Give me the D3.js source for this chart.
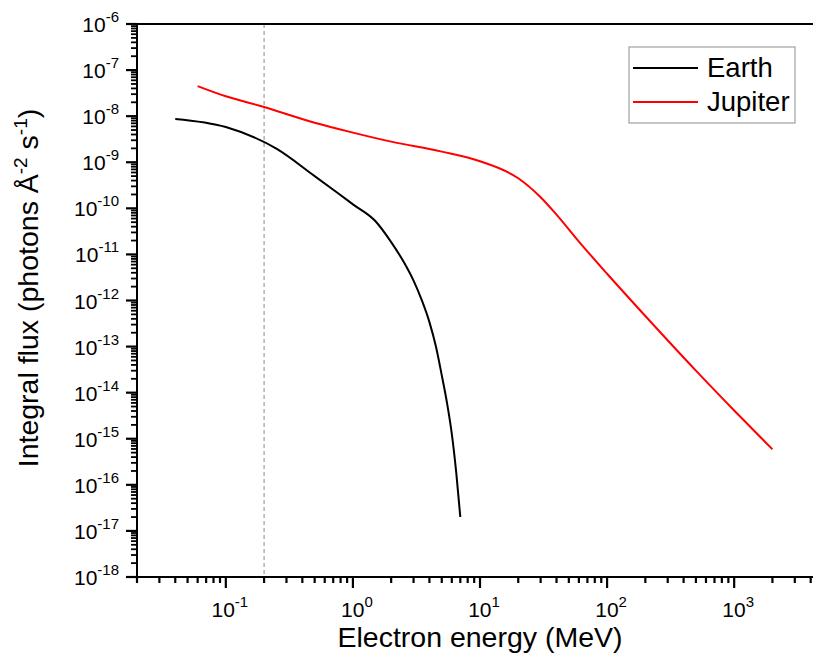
<!DOCTYPE html>
<html>
<head>
<meta charset="utf-8">
<script src="https://cdn.jsdelivr.net/npm/d3@7"></script>
<style>
  html, body { margin: 0; padding: 0; background: #fff; }
  svg { display: block; font-family: "Liberation Sans", Arial, sans-serif; }
</style>
</head>
<body>
<svg id="chart" width="813" height="663"></svg>
<script>
// ---- data ----
const earthEnergy = [0.04, 0.1, 0.25, 0.5, 0.75, 1, 1.5, 2, 2.5, 3, 3.5, 4, 4.5, 5, 5.5, 6, 6.5, 7];
const earthFlux   = [8.7e-9, 5.8e-9, 1.97e-9, 5.0e-10, 2.2e-10, 1.22e-10, 5.3e-11, 1.85e-11, 7.0e-12, 2.7e-12, 9.8e-13, 3.4e-13, 1.0e-13, 2.4e-14, 6.0e-15, 1.28e-15, 1.86e-16, 2.0e-17];
const jupiterEnergy = [0.06, 0.1, 0.2, 0.5, 1, 2, 5, 10, 20, 30, 40, 60, 100, 200, 500, 1000, 2000];
const jupiterFlux   = [4.5e-8, 2.7e-8, 1.58e-8, 7.2e-9, 4.4e-9, 2.8e-9, 1.7e-9, 1.05e-9, 4.5e-10, 1.74e-10, 7.3e-11, 1.9e-11, 3.8e-12, 4.6e-13, 3.0e-14, 4.1e-15, 5.9e-16];
const seriesNames = ["Earth", "Jupiter"];
const seriesColors = ["#000000", "#ff0000"];
const xMajorExp = [-1, 0, 1, 2, 3];
const yMajorExp = [-18, -17, -16, -15, -14, -13, -12, -11, -10, -9, -8, -7, -6];
const markerEnergy = 0.2;
const xTitle = "Electron energy (MeV)";

// ---- layout ----
const svg = d3.select("#chart");
const pLeft = 137, pRight = 823, pTop = 24, pBottom = 577;
const x = d3.scaleLog().domain([0.02, 5000]).range([pLeft, pRight]);
const y = d3.scaleLog().domain([1e-18, 1e-6]).range([pBottom, pTop]);

// minor ticks
const xMinor = [];
for (let e = -2; e <= 3; e++) for (let m = 2; m <= 9; m++) { const v = m * Math.pow(10, e); if (v >= 0.02 && v <= 5000) xMinor.push(v); }
const yMinor = [];
for (let e = -18; e < -6; e++) for (let m = 2; m <= 9; m++) yMinor.push(m * Math.pow(10, e));
const xMajor = xMajorExp.map(e => Math.pow(10, e));
const yMajor = yMajorExp.map(e => Math.pow(10, e));

// dashed marker line
svg.append("line")
  .attr("x1", x(markerEnergy)).attr("x2", x(markerEnergy))
  .attr("y1", pTop).attr("y2", pBottom)
  .attr("stroke", "#8a8a8a").attr("stroke-width", 1).attr("stroke-dasharray", "4,3");

// curves
const line = d3.line().x(d => x(d[0])).y(d => y(d[1])).curve(d3.curveMonotoneX);
const series = [
  earthEnergy.map((e, i) => [e, earthFlux[i]]),
  jupiterEnergy.map((e, i) => [e, jupiterFlux[i]])
];
series.forEach((s, i) => {
  svg.append("path").datum(s).attr("d", line)
    .attr("fill", "none").attr("stroke", seriesColors[i]).attr("stroke-width", 2)
    .attr("stroke-linejoin", "round");
});

// ---- axes (drawn from the scales) ----
const axes = svg.append("g").attr("stroke", "#000").attr("fill", "none");
axes.append("line").attr("x1", pLeft).attr("x2", pRight).attr("y1", pTop).attr("y2", pTop).attr("stroke-width", 2);
axes.append("line").attr("x1", pLeft).attr("x2", pRight).attr("y1", pBottom).attr("y2", pBottom).attr("stroke-width", 2);
axes.append("line").attr("x1", pLeft).attr("x2", pLeft).attr("y1", pTop - 1).attr("y2", pBottom + 1).attr("stroke-width", 2);

// x ticks
axes.selectAll("line.xminor").data(xMinor).join("line").attr("class", "xminor")
  .attr("x1", d => x(d)).attr("x2", d => x(d)).attr("y1", pBottom).attr("y2", pBottom + 6).attr("stroke-width", 2.2);
axes.selectAll("line.xmajor").data(xMajor).join("line").attr("class", "xmajor")
  .attr("x1", d => x(d)).attr("x2", d => x(d)).attr("y1", pBottom).attr("y2", pBottom + 11).attr("stroke-width", 2.2);
// y ticks
axes.selectAll("line.yminor").data(yMinor).join("line").attr("class", "yminor")
  .attr("x1", pLeft - 6).attr("x2", pLeft).attr("y1", d => y(d)).attr("y2", d => y(d)).attr("stroke-width", 1.8);
axes.selectAll("line.ymajor").data(yMajor).join("line").attr("class", "ymajor")
  .attr("x1", pLeft - 11).attr("x2", pLeft).attr("y1", d => y(d)).attr("y2", d => y(d)).attr("stroke-width", 2.2);

// tick labels
svg.selectAll("text.xlab").data(xMajorExp).join("text").attr("class", "xlab")
  .attr("x", d => x(Math.pow(10, d)) + 4).attr("y", pBottom + 40)
  .attr("text-anchor", "middle").attr("font-size", 21).attr("fill", "#000")
  .each(function(d) {
    const t = d3.select(this);
    t.append("tspan").text("10");
    t.append("tspan").attr("font-size", 15).attr("dy", -10).text(String(d));
  });
svg.selectAll("text.ylab").data(yMajorExp).join("text").attr("class", "ylab")
  .attr("x", pLeft - 18).attr("y", d => y(Math.pow(10, d)) + 8)
  .attr("text-anchor", "end").attr("font-size", 21).attr("fill", "#000")
  .each(function(d) {
    const t = d3.select(this);
    t.append("tspan").text("10");
    t.append("tspan").attr("font-size", 15).attr("dy", -10).text(String(d));
  });

// axis titles
svg.append("text").attr("x", x(10)).attr("y", 647)
  .attr("text-anchor", "middle").attr("font-size", 28.5).attr("fill", "#000")
  .text(xTitle);

const yt = svg.append("text").attr("transform", `translate(38,288) rotate(-90)`)
  .attr("text-anchor", "middle").attr("font-size", 28.5).attr("fill", "#000");
yt.append("tspan").text("Integral flux (photons Å");
yt.append("tspan").attr("font-size", 19).attr("dy", -11).text("-2");
yt.append("tspan").attr("dy", 11).text(" s");
yt.append("tspan").attr("font-size", 19).attr("dy", -11).text("-1");
yt.append("tspan").attr("dy", 11).text(")");

// legend
const lg = svg.append("g");
lg.append("rect").attr("x", 629).attr("y", 47).attr("width", 166).attr("height", 76)
  .attr("fill", "#fff").attr("stroke", "#a0a0a0").attr("stroke-width", 1.2);
seriesNames.forEach((n, i) => {
  const cy = 68 + i * 34;
  lg.append("line").attr("x1", 633).attr("x2", 698).attr("y1", cy).attr("y2", cy)
    .attr("stroke", seriesColors[i]).attr("stroke-width", 2);
  lg.append("text").attr("x", 707).attr("y", cy + 9).attr("font-size", 27.5).attr("fill", "#000").text(n);
});
</script>
</body>
</html>
